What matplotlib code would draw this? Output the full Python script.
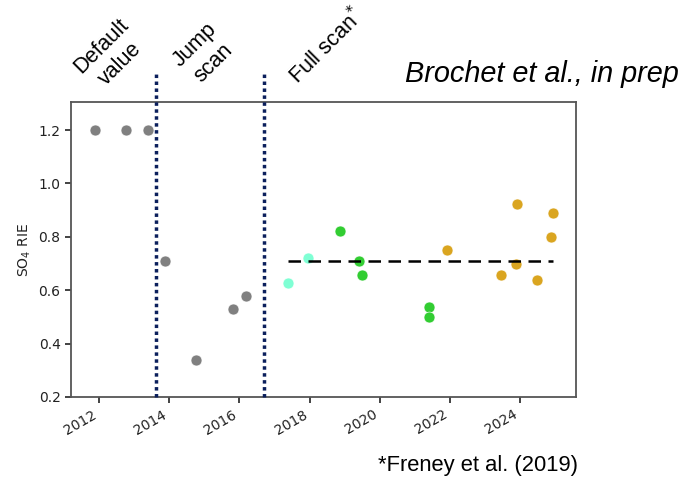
import matplotlib
matplotlib.use("Agg")
import matplotlib.pyplot as plt
import matplotlib.dates as mdates
import numpy as np
import datetime as dt

def yr(y):
    year = int(np.floor(y))
    start = dt.datetime(year, 1, 1)
    end = dt.datetime(year + 1, 1, 1)
    return start + (end - start) * (y - year)

# Data (decimal years, RIE values)
gray_years = [2011.88, 2012.78, 2013.38, 2013.89, 2014.77, 2015.83, 2016.20]
gray_vals = [1.20, 1.20, 1.20, 0.71, 0.34, 0.53, 0.58]

aqua_years = [2017.38, 2017.95]
aqua_vals = [0.627, 0.72]

green_years = [2018.87, 2019.41, 2019.50, 2021.41, 2021.41]
green_vals = [0.82, 0.71, 0.658, 0.537, 0.498]

gold_years = [2021.92, 2023.44, 2023.88, 2023.90, 2024.47, 2024.88, 2024.94]
gold_vals = [0.75, 0.658, 0.697, 0.922, 0.639, 0.80, 0.89]

mean_start, mean_end, mean_val = 2017.38, 2024.94, 0.71
vline_years = [2013.62, 2016.71]

fig = plt.figure(figsize=(6.84, 4.83), dpi=100)
ax = fig.add_axes([71/684, 1 - 397/483, (576-71)/684, (397-102)/483])

ms = 62
ax.scatter([yr(v) for v in gray_years], gray_vals, s=ms, color='gray', edgecolors='white', linewidths=0.4, zorder=3)
ax.scatter([yr(v) for v in aqua_years], aqua_vals, s=ms, color='aquamarine', edgecolors='white', linewidths=0.4, zorder=3)
ax.scatter([yr(v) for v in green_years], green_vals, s=ms, color='limegreen', edgecolors='white', linewidths=0.4, zorder=3)
ax.scatter([yr(v) for v in gold_years], gold_vals, s=ms, color='goldenrod', edgecolors='white', linewidths=0.4, zorder=3)

ax.plot([yr(mean_start), yr(mean_end)], [mean_val, mean_val], color='black', linestyle=(0, (5, 3)), lw=1.8, zorder=4)

for v in vline_years:
    ax.plot([yr(v), yr(v)], [0.2, 1.42], color='#0b1f5c', linestyle=(0, (1, 1)), lw=2.5,
            clip_on=False, zorder=5)

ax.set_xlim(yr(2011.2), yr(2025.59))
ax.set_ylim(0.2, 1.305)
ax.set_yticks([0.2, 0.4, 0.6, 0.8, 1.0, 1.2])
ax.xaxis.set_major_locator(mdates.YearLocator(2))
ax.xaxis.set_major_formatter(mdates.DateFormatter('%Y'))
ax.tick_params(labelsize=10, colors='#222222', width=1.2, length=4)
for lab in ax.get_xticklabels():
    lab.set_rotation(30)
    lab.set_ha('right')
for sp in ax.spines.values():
    sp.set_color('#555555')
    sp.set_linewidth(1.3)
ax.set_ylabel('SO$_4$ RIE', fontsize=10, color='#222222')

tf = dict(family=['Liberation Sans', 'DejaVu Sans'], fontsize=15.5, rotation=45,
          ha='center', va='center', multialignment='center', linespacing=1.3)
fig.text(111/684, 1 - 55/483, 'Default\nvalue', **tf)
fig.text(204/684, 1 - 54/483, 'Jump\nscan', **tf)
fig.text(326/684, 1 - 46/483, 'Full scan$^{*}$', **tf)

fig.text(679/684, 1 - 74/483, 'Brochet et al., in prep', family=['Liberation Sans'],
         style='italic', fontsize=20.8, ha='right', va='center')
fig.text(578/684, 1 - 466/483, '*Freney et al. (2019)', family=['Liberation Sans'],
         fontsize=15.8, ha='right', va='center')

fig.savefig('out.png', dpi=100)
